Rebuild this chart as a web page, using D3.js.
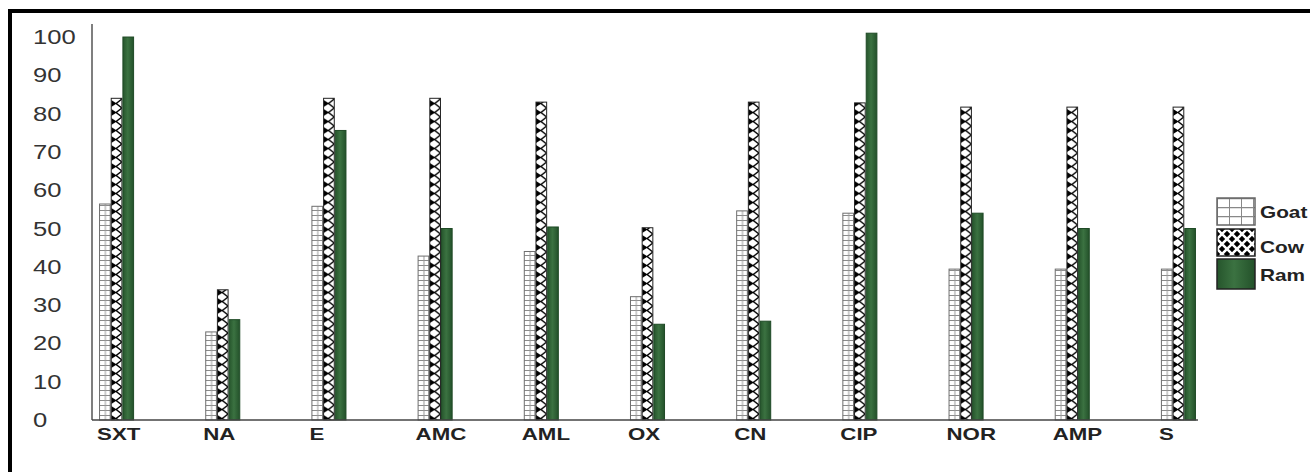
<!DOCTYPE html>
<html>
<head>
<meta charset="utf-8">
<script src="https://cdn.jsdelivr.net/npm/d3@7"></script>
<style>
  body { margin: 0; background: #fff; }
  svg { display: block; font-family: "Liberation Sans", Arial, sans-serif; }
</style>
</head>
<body>
<svg id="canvas" width="1310" height="472"></svg>
<script>
let categories = ['SXT', 'NA', 'E', 'AMC', 'AML', 'OX', 'CN', 'CIP', 'NOR', 'AMP', 'S']
let seriesNames = ['Goat', 'Cow', 'Ram']
let goatValues = [56.4, 23, 55.8, 42.8, 44, 32.2, 54.6, 54, 39.4, 39.4, 39.4]
let cowValues = [84, 34, 84, 84, 83, 50.2, 83, 82.8, 81.7, 81.7, 81.7]
let ramValues = [100, 26.2, 75.6, 50, 50.4, 25, 25.8, 101, 54, 50, 50]
let yTicks = [0, 10, 20, 30, 40, 50, 60, 70, 80, 90, 100]

let allValues = [goatValues, cowValues, ramValues]

let canvas = d3.select('#canvas')

let x = d3.scaleBand()
          .domain(categories)
          .range([64, 1231])
          .paddingInner(0.67)
          .paddingOuter(0.33)

let xSeries = d3.scaleBand()
                .domain(seriesNames)
                .range([0, x.bandwidth()])

let y = d3.scaleLinear()
          .domain([0, 103.4])
          .range([420, 24])

let bw = xSeries.bandwidth()

// patterns live in each group's local space, so x = the bar's local x
let defs = canvas.append('defs')

let goatPat = defs.append('pattern')
                  .attr('id', 'goat')
                  .attr('patternUnits', 'userSpaceOnUse')
                  .attr('x', xSeries('Goat') + 0.5)
                  .attr('y', 0)
                  .attr('width', bw)
                  .attr('height', 5)
goatPat.append('rect').attr('width', bw).attr('height', 5).attr('fill', '#fff')
goatPat.append('line').attr('x1', 0).attr('x2', bw).attr('y1', 0.5).attr('y2', 0.5)
       .attr('stroke', '#8a8a8a').attr('stroke-width', 1)
goatPat.append('line').attr('x1', bw / 2).attr('x2', bw / 2).attr('y1', 0).attr('y2', 5)
       .attr('stroke', '#9a9a9a').attr('stroke-width', 1)

let cowPat = defs.append('pattern')
                 .attr('id', 'cow')
                 .attr('patternUnits', 'userSpaceOnUse')
                 .attr('x', xSeries('Cow') + 0.5)
                 .attr('y', 0)
                 .attr('width', bw)
                 .attr('height', 9)
cowPat.append('rect').attr('width', bw).attr('height', 9).attr('fill', '#fff')
cowPat.append('path').attr('d', 'M0,1 L5.5,4.5 L0,8 Z').attr('fill', '#000')
cowPat.append('path').attr('d', 'M' + (bw - 1) + ',0 L5,4.5 L' + (bw - 1) + ',9')
      .attr('fill', 'none').attr('stroke', '#000').attr('stroke-width', 1.4)

let ramGrad = defs.append('linearGradient')
                  .attr('id', 'ramGrad')
                  .attr('x1', 0).attr('x2', 1).attr('y1', 0).attr('y2', 0)
ramGrad.append('stop').attr('offset', '0%').attr('stop-color', '#26552c')
ramGrad.append('stop').attr('offset', '45%').attr('stop-color', '#3b7241')
ramGrad.append('stop').attr('offset', '100%').attr('stop-color', '#23512a')

// legend patterns
let lgGoat = defs.append('pattern')
                 .attr('id', 'lgGoat')
                 .attr('patternUnits', 'userSpaceOnUse')
                 .attr('x', 1217).attr('y', 198)
                 .attr('width', 12).attr('height', 9)
lgGoat.append('rect').attr('width', 12).attr('height', 9).attr('fill', '#fff')
lgGoat.append('line').attr('x1', 0).attr('x2', 12).attr('y1', 0).attr('y2', 0)
      .attr('stroke', '#888').attr('stroke-width', 2.5)
lgGoat.append('line').attr('x1', 0).attr('x2', 0).attr('y1', 0).attr('y2', 9)
      .attr('stroke', '#888').attr('stroke-width', 2)

let lgCow = defs.append('pattern')
                .attr('id', 'lgCow')
                .attr('patternUnits', 'userSpaceOnUse')
                .attr('x', 1217).attr('y', 229)
                .attr('width', 10).attr('height', 10)
lgCow.append('rect').attr('width', 10).attr('height', 10).attr('fill', '#000')
lgCow.append('path').attr('d', 'M0,0 L10,10 M10,0 L0,10')
     .attr('stroke', '#fff').attr('stroke-width', 2.6)

// frame
canvas.append('rect')
      .attr('x', 10).attr('y', 11)
      .attr('width', 1400).attr('height', 600)
      .attr('fill', 'none')
      .attr('stroke', '#000')
      .attr('stroke-width', 4)

// bars
let groups = canvas.selectAll('g.group')
                   .data(categories)
                   .enter()
                   .append('g')
                   .attr('class', 'group')
                   .attr('transform', (cat) => 'translate(' + x(cat) + ',0)')

let fills = { Goat: 'url(#goat)', Cow: 'url(#cow)', Ram: 'url(#ramGrad)' }
let strokes = { Goat: '#6e6e6e', Cow: '#222', Ram: '#1f4a26' }

groups.selectAll('rect')
      .data((cat, i) => seriesNames.map((s, k) => ({ series: s, value: allValues[k][i] })))
      .enter()
      .append('rect')
      .attr('x', (d) => xSeries(d.series) + 0.5)
      .attr('y', (d) => y(d.value))
      .attr('width', bw - 1)
      .attr('height', (d) => y(0) - y(d.value))
      .attr('fill', (d) => fills[d.series])
      .attr('stroke', (d) => strokes[d.series])
      .attr('stroke-width', 1)

// axes lines
canvas.append('line')
      .attr('x1', 92).attr('x2', 92)
      .attr('y1', y.range()[1]).attr('y2', y(0))
      .attr('stroke', '#555').attr('stroke-width', 1.5)

canvas.append('line')
      .attr('x1', 92).attr('x2', x(categories[categories.length - 1]) + x.bandwidth() + 2)
      .attr('y1', y(0)).attr('y2', y(0))
      .attr('stroke', '#444').attr('stroke-width', 1.5)

// y tick labels (source image is stretched horizontally)
canvas.selectAll('text.ytick')
      .data(yTicks)
      .enter()
      .append('text')
      .attr('class', 'ytick')
      .attr('transform', (t) => 'translate(33,' + (y(t) + 7) + ') scale(1.28,1)')
      .attr('font-size', 20)
      .attr('fill', '#333')
      .text((t) => t)

// category labels
canvas.selectAll('text.xlabel')
      .data(categories)
      .enter()
      .append('text')
      .attr('class', 'xlabel')
      .attr('transform', (cat) => 'translate(' + (x(cat) - 2) + ',440) scale(1.35,1)')
      .attr('font-size', 16.5)
      .attr('font-weight', 'bold')
      .attr('fill', '#222')
      .text((cat) => cat)

// legend
let legendFills = ['url(#lgGoat)', 'url(#lgCow)', 'url(#ramGrad)']
let legendBoxes = [[198, 27], [229, 27], [259, 30]]
let legendBase = [218, 253, 281]

let legend = canvas.selectAll('g.legend')
                   .data(seriesNames)
                   .enter()
                   .append('g')
                   .attr('class', 'legend')

legend.append('rect')
      .attr('x', 1217)
      .attr('y', (s, i) => legendBoxes[i][0])
      .attr('width', 38)
      .attr('height', (s, i) => legendBoxes[i][1])
      .attr('fill', (s, i) => legendFills[i])
      .attr('stroke', (s, i) => i === 0 ? '#666' : '#222')
      .attr('stroke-width', 1.5)

legend.append('text')
      .attr('transform', (s, i) => 'translate(1260,' + legendBase[i] + ') scale(1.3,1)')
      .attr('font-size', 16)
      .attr('font-weight', 'bold')
      .attr('fill', '#222')
      .text((s) => s)
</script>
</body>
</html>
